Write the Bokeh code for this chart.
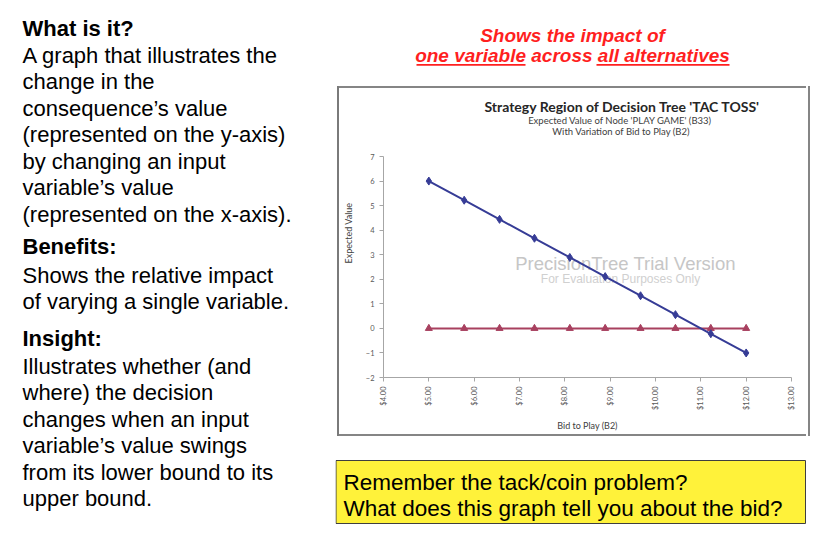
import math
from bokeh.plotting import figure
from bokeh.models import Label, BoxAnnotation, FixedTicker, NumeralTickFormatter, Spacer
from bokeh.layouts import row, column
from bokeh.embed import file_html
from bokeh.resources import INLINE

# ---- data ----
bid_values = [5.00, 5.78, 6.56, 7.33, 8.11, 8.89, 9.67, 10.44, 11.22, 12.00]
play_ev = [6.00, 5.22, 4.44, 3.67, 2.89, 2.11, 1.33, 0.56, -0.22, -1.00]
dont_play_ev = [0, 0, 0, 0, 0, 0, 0, 0, 0, 0]
x_ticks = [4, 5, 6, 7, 8, 9, 10, 11, 12, 13]
y_ticks = [-2, -1, 0, 1, 2, 3, 4, 5, 6, 7]

chart_title = "Strategy Region of Decision Tree 'TAC TOSS'"
chart_sub1 = "Expected Value of Node  'PLAY GAME'  (B33)"
chart_sub2 = "With Variation  of Bid to Play (B2)"
x_title = "Bid to Play (B2)"
y_title = "Expected Value"
watermark1 = "PrecisionTree Trial Version"
watermark2 = "For Evaluation Purposes Only"

headline1 = "Shows the impact of"
headline2 = "one variable across all alternatives"
question_lines = ["Remember the tack/coin problem?",
                  "What does this graph tell you about the bid?"]

left_lines = [
    ("What is it?", True, 28),
    ("A graph that illustrates the", False, 55),
    ("change in the", False, 81),
    ("consequence\u2019s value", False, 108),
    ("(represented on the y-axis)", False, 134),
    ("by changing an input", False, 161),
    ("variable\u2019s value", False, 187),
    ("(represented on the x-axis).", False, 214),
    ("Benefits:", True, 246),
    ("Shows the relative impact", False, 275),
    ("of varying a single variable.", False, 301),
    ("Insight:", True, 338),
    ("Illustrates whether (and", False, 366),
    ("where) the decision", False, 392),
    ("changes when an input", False, 419),
    ("variable\u2019s value swings", False, 445),
    ("from its lower bound to its", False, 472),
    ("upper bound.", False, 498),
]


def blank_fig(w, h):
    f = figure(width=w, height=h, x_range=(0, 1), y_range=(0, 1),
               x_axis_type=None, y_axis_type=None, min_border=0,
               output_backend="svg", toolbar_location=None,
               background_fill_color="white", border_fill_color="white")
    f.outline_line_color = None
    f.xgrid.visible = False
    f.ygrid.visible = False
    return f


def lab(fig, ox, oy, x, ytop, text, size, color="black", bold=False, italic=False,
        font="Liberation Sans", align="left", level="annotation"):
    style = "normal"
    if bold and italic:
        style = "bold italic"
    elif bold:
        style = "bold"
    elif italic:
        style = "italic"
    fig.add_layout(Label(x=x - ox, y=oy - ytop, x_units="screen", y_units="screen",
                         text=text, text_font=font, text_font_size=size,
                         text_font_style=style, text_color=color,
                         text_align=align, text_baseline="middle", level=level))


def box(fig, ox, oy, l, t, r, b, fill=None, line=None, lw=1):
    fig.add_layout(BoxAnnotation(left=l - ox, right=r - ox, top=oy - t, bottom=oy - b,
                                 left_units="screen", right_units="screen",
                                 top_units="screen", bottom_units="screen",
                                 fill_color=fill if fill else "white",
                                 fill_alpha=1 if fill else 0,
                                 line_color=line if line else "white",
                                 line_width=lw, line_alpha=1 if line else 0))


def bar(w, h, color):
    return Spacer(width=w, height=h, styles={"background-color": color})


# ---- left text panel (page x 0..335) ----
left = blank_fig(335, 534)
for txt, bold, yc in left_lines:
    lab(left, 0, 534, 22, yc, txt, "22px", bold=bold)

# ---- headline panel (page x 335..829, y 0..86) ----
head = blank_fig(494, 86)
RED = "#ff1f1f"
lab(head, 335, 86, 572, 35, headline1, "19px", color=RED, bold=True, italic=True, align="center")
lab(head, 335, 86, 572, 55, headline2, "19px", color=RED, bold=True, italic=True, align="center")
box(head, 335, 86, 416, 63.5, 525, 65.2, fill=RED)
box(head, 335, 86, 596, 63.5, 729, 65.2, fill=RED)

# ---- chart (page x 339..806, y 88..434); frame x 381..789, y 88..377 ----
p = figure(frame_width=408, frame_height=289,
           min_border_left=42, min_border_right=17,
           min_border_top=0, min_border_bottom=57,
           x_range=(4, 13), y_range=(-2, 9.77),
           output_backend="svg", toolbar_location=None,
           background_fill_color="white", border_fill_color="white")
p.outline_line_color = None
p.xgrid.visible = False
p.ygrid.visible = False

for ax in (p.xaxis[0], p.yaxis[0]):
    ax.axis_line_color = "#a6a6a6"
    ax.major_tick_line_color = "#a6a6a6"
    ax.minor_tick_line_color = None
    ax.major_tick_in = 0
    ax.major_tick_out = 4
    ax.major_label_text_color = "#595959"
    ax.major_label_text_font = "Lato"
    ax.major_label_text_font_size = "7.5px"
    ax.major_label_standoff = 5
    ax.axis_label_text_font = "Lato"
    ax.axis_label_text_font_size = "9px"
    ax.axis_label_text_font_style = "normal"
    ax.axis_label_text_color = "#404040"

p.xaxis.ticker = FixedTicker(ticks=x_ticks)
p.yaxis.ticker = FixedTicker(ticks=y_ticks)
p.yaxis.bounds = (-2, 7)
p.xaxis.formatter = NumeralTickFormatter(format="$0.00")
p.xaxis.major_label_orientation = math.pi / 2
p.xaxis.axis_label = x_title
p.xaxis.axis_label_standoff = 7
p.yaxis.axis_label = y_title
p.yaxis.axis_label_standoff = 9

CX, CY = 381, 377  # frame origin on the page (left, bottom)
lab(p, CX, CY, 623, 263, watermark1, "18.5px", color="#c6c6c6", align="center", level="underlay")
lab(p, CX, CY, 618, 278, watermark2, "12px", color="#d0d0d0", align="center", level="underlay")

p.line(bid_values, dont_play_ev, line_color="#a8405f", line_width=2)
p.scatter(bid_values, dont_play_ev, marker="triangle", size=7,
          fill_color="#a8405f", line_color="#a8405f")
p.line(bid_values, play_ev, line_color="#363c96", line_width=2)
p.scatter(bid_values, play_ev, marker="diamond", size=8,
          fill_color="#363c96", line_color="#363c96")

lab(p, CX, CY, 620, 106, chart_title, "14px", color="#262626", bold=True, font="Lato", align="center")
lab(p, CX, CY, 620, 120, chart_sub1, "9.5px", color="#404040", font="Lato", align="center")
lab(p, CX, CY, 620, 131, chart_sub2, "9.5px", color="#404040", font="Lato", align="center")

GRAY = "#858585"
chart_block = row(
    Spacer(width=2, height=350),
    bar(2, 350, "#7a7a7a"),
    column(bar(467, 2, GRAY), p, bar(467, 2, GRAY)),
    bar(2, 350, GRAY),
    Spacer(width=21, height=350),
)

# ---- question box (page x 335..829, y 436..534) ----
qbox = blank_fig(494, 98)
box(qbox, 335, 534, 335.5, 460, 805, 523, fill="#fff23a", line="#3f3f3f", lw=1)
lab(qbox, 335, 534, 343, 482, question_lines[0], "22.5px")
lab(qbox, 335, 534, 343, 508, question_lines[1], "22.5px")

layout = row(left, column(head, chart_block, qbox))

open("out.html", "w").write(file_html(layout, INLINE))
